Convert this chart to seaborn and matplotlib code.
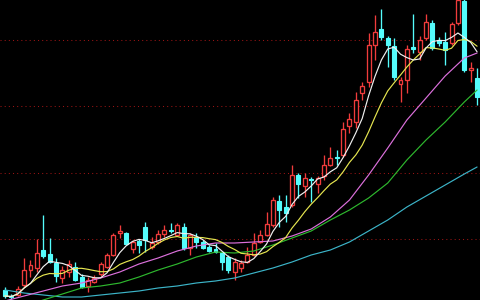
import numpy as np
import pandas as pd
import matplotlib
matplotlib.use("Agg")
import matplotlib.pyplot as plt
import seaborn as sns
from matplotlib.patches import Rectangle

# ---- candle data (price units) ----
opens = [1.0, 0.4, 0.5, 1.5, 3.0, 3.2, 5.0, 4.6, 3.7, 2.2,
         2.8, 3.3, 2.3, 1.4, 1.8, 2.6, 3.3, 4.5, 6.7, 6.7,
         5.1, 5.9, 7.3, 5.3, 5.8, 6.6, 7.0, 6.5, 7.3, 5.2,
         6.3, 5.8, 5.3, 5.1, 4.7, 4.3, 2.8, 3.2, 3.8, 4.5,
         5.8, 6.5, 7.5, 9.9, 9.3, 9.5, 12.5, 11.4, 12.1, 11.6,
         12.4, 13.5, 14.3, 14.5, 17.4, 17.8, 20.7, 21.8, 25.5, 27.1,
         26.2, 25.4, 21.6, 22.0, 25.3, 24.8, 26.2, 27.7, 26.0, 25.8,
         25.7, 27.7, 29.9, 23.0, 22.2]
closes = [0.4, 0.3, 1.1, 3.0, 3.5, 4.7, 4.4, 3.8, 2.4, 3.0,
          3.6, 2.0, 1.3, 2.0, 2.2, 3.6, 4.5, 6.5, 6.9, 5.6,
          5.8, 5.5, 6.0, 5.7, 6.6, 7.0, 6.9, 7.5, 5.2, 6.5,
          5.8, 5.2, 4.9, 4.8, 3.8, 3.0, 3.8, 3.7, 4.5, 5.7,
          6.5, 7.6, 10.0, 9.0, 8.7, 12.5, 11.6, 12.2, 12.0, 12.2,
          13.5, 14.2, 14.2, 17.1, 18.1, 20.0, 21.4, 25.5, 26.8, 26.3,
          25.5, 22.3, 22.0, 25.1, 25.1, 26.0, 27.8, 25.2, 25.7, 25.0,
          27.6, 30.0, 23.0, 23.2, 20.3]
highs = [1.3, 0.6, 1.4, 4.2, 4.0, 6.1, 8.5, 6.2, 4.2, 3.4,
         4.0, 3.8, 2.6, 2.3, 2.5, 3.8, 4.7, 6.7, 7.5, 6.8,
         6.0, 6.1, 7.8, 6.3, 7.0, 7.5, 7.7, 7.7, 7.7, 6.7,
         6.7, 6.0, 5.5, 5.7, 4.9, 4.5, 4.2, 4.0, 5.3, 6.7,
         7.0, 8.8, 10.3, 10.5, 10.5, 13.5, 12.7, 12.7, 12.3, 12.4,
         14.5, 15.3, 15.0, 17.8, 18.7, 20.8, 21.8, 26.7, 28.5, 29.1,
         26.4, 26.2, 22.3, 25.5, 28.6, 26.4, 28.6, 28.0, 26.3, 26.8,
         27.8, 30.5, 30.5, 23.8, 23.2]
lows = [0.2, 0.1, 0.4, 1.3, 2.3, 2.8, 4.2, 3.7, 1.8, 1.7,
        2.3, 1.9, 1.2, 0.8, 1.7, 2.4, 3.2, 4.4, 6.2, 5.5,
        4.7, 4.7, 4.8, 5.1, 5.6, 6.3, 6.7, 6.4, 5.0, 4.5,
        5.2, 5.1, 4.8, 4.7, 3.0, 2.7, 2.0, 2.8, 3.7, 4.4,
        5.7, 6.4, 7.3, 7.3, 7.8, 9.3, 10.2, 10.3, 9.8, 10.7,
        12.0, 13.4, 13.5, 14.3, 16.7, 17.2, 20.0, 21.3, 24.0, 26.0,
        23.3, 22.0, 19.8, 20.7, 24.7, 24.0, 26.0, 25.0, 25.4, 23.5,
        25.5, 27.5, 22.8, 21.8, 19.5]

# ---- long moving averages ----
ma20_idx = [0, 3, 6, 9, 12, 15, 18, 21, 24, 27, 30, 33, 36, 39, 42, 45, 48, 51, 54, 57, 60, 63, 66, 69, 72, 74]
ma20_val = [-0.1, 0.4, 0.9, 1.4, 1.7, 2.2, 2.8, 3.6, 4.2, 4.9, 5.4, 5.7, 5.7, 5.8, 5.9, 6.4, 7.1, 8.3, 10.0, 12.5, 15.2, 18.0, 20.2, 22.4, 24.2, 24.7]
ma30_idx = [3, 6, 9, 12, 15, 18, 21, 24, 27, 30, 33, 36, 39, 42, 45, 48, 51, 54, 57, 60, 63, 66, 69, 72, 74]
ma30_val = [-0.6, 0.0, 0.6, 1.2, 1.4, 1.7, 2.3, 3.0, 3.6, 4.3, 4.8, 4.7, 4.9, 5.5, 6.2, 6.9, 8.0, 9.0, 10.2, 11.7, 14.0, 16.0, 17.8, 19.8, 21.0]
ma60_idx = [0, 3, 6, 9, 12, 15, 18, 21, 24, 27, 30, 33, 36, 39, 42, 45, 48, 51, 54, 57, 60, 63, 66, 69, 72, 74]
ma60_val = [1.0, 0.7, 0.5, 0.3, 0.3, 0.5, 0.7, 0.9, 1.2, 1.4, 1.7, 1.9, 2.2, 2.7, 3.2, 3.8, 4.5, 5.0, 5.8, 6.9, 8.0, 9.3, 10.4, 11.5, 12.6, 13.3]

grid_levels = [6.1, 12.7, 19.4, 26.0]

UP = "#f03c3c"
DOWN = "#54fcfc"
CW = 0.95   # candle line width (pt)
LW = 0.85   # MA line width (pt)

sns.set_style("dark", {"axes.facecolor": "black", "figure.facecolor": "black"})

fig = plt.figure(figsize=(4.8, 3.0), dpi=100)
ax = fig.add_axes([0, 0, 1, 1])
ax.set_facecolor("black")

n = len(opens)
df = pd.DataFrame({"i": np.arange(n), "open": opens, "close": closes,
                   "high": highs, "low": lows})
df["ma5"] = df["close"].rolling(5, min_periods=1).mean()
df["ma10"] = df["close"].rolling(10, min_periods=1).mean()

for lv in grid_levels:
    ax.axhline(lv, color="#9a1414", lw=0.75, ls=(0, (1, 3)), zorder=0)

w = 0.62
for r in df.itertuples():
    if r.close >= r.open:
        top, bot = r.close, r.open
        ax.vlines(r.i, top, r.high, color=UP, lw=CW, zorder=2)
        ax.vlines(r.i, r.low, bot, color=UP, lw=CW, zorder=2)
        ax.add_patch(Rectangle((r.i - w / 2, bot), w, max(top - bot, 0.05),
                               facecolor="black", edgecolor=UP, lw=CW, zorder=3))
    else:
        top, bot = r.open, r.close
        ax.vlines(r.i, r.low, r.high, color=DOWN, lw=CW, zorder=2)
        ax.add_patch(Rectangle((r.i - w / 2, bot), w, max(top - bot, 0.08),
                               facecolor=DOWN, edgecolor=DOWN, lw=0.8, zorder=3))

sns.lineplot(x=ma60_idx, y=ma60_val, color="#3cb4c8", lw=LW, ax=ax, zorder=4)
sns.lineplot(x=ma30_idx, y=ma30_val, color="#2eb82e", lw=LW, ax=ax, zorder=4)
sns.lineplot(x=ma20_idx, y=ma20_val, color="#dc70dc", lw=LW, ax=ax, zorder=4)
sns.lineplot(data=df, x="i", y="ma10", color="#e6e650", lw=LW, ax=ax, zorder=5)
sns.lineplot(data=df, x="i", y="ma5", color="#f0f0f0", lw=LW, ax=ax, zorder=6)

ax.set_xlim(-0.78, 74.46)
ax.set_ylim(0, 30)
ax.set_xticks([])
ax.set_yticks([])
ax.set_xlabel("")
ax.set_ylabel("")
for s in ax.spines.values():
    s.set_visible(False)

fig.savefig("out.png", dpi=100, facecolor="black")
